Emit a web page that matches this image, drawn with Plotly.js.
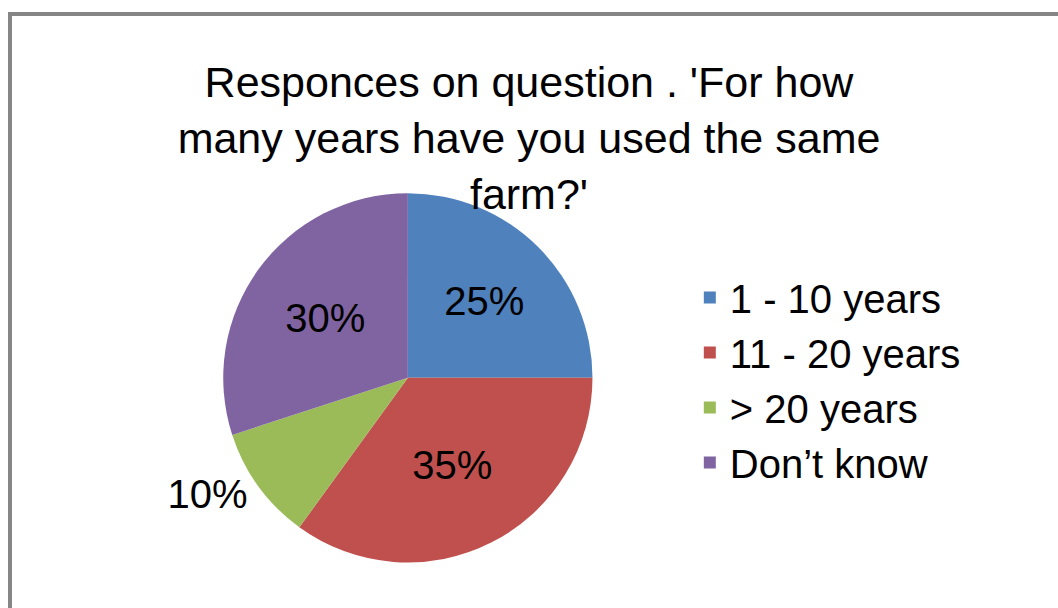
<!DOCTYPE html>
<html>
<head>
<meta charset="utf-8">
<script src="https://cdn.plot.ly/plotly-3.0.1.min.js"></script>
<style>html,body{margin:0;padding:0;background:#fff;}#chart{width:1058px;height:608px;}</style>
</head>
<body>
<div id="chart"></div>
<script>
const categories = ["1 - 10 years", "11 - 20 years", "> 20 years", "Don\u2019t know"];
const shares = [25, 35, 10, 30];
const colors = ["#4F81BD", "#C0504D", "#9BBB59", "#8064A2"];
const textPositions = ["inside", "inside", "outside", "inside"];
const chartTitle = "Responces on question . 'For how<br>many years have you used the same<br>farm?'";

const trace = {
  type: "pie",
  labels: categories,
  values: shares,
  sort: false,
  direction: "clockwise",
  rotation: 0,
  marker: {colors: colors, line: {width: 0}},
  textinfo: "percent",
  texttemplate: "%{percent:.0%}",
  textposition: textPositions,
  insidetextorientation: "horizontal",
  textfont: {family: "Liberation Sans, Arial, sans-serif", size: 40, color: "#000"},
  insidetextfont: {family: "Liberation Sans, Arial, sans-serif", size: 40, color: "#000"},
  outsidetextfont: {family: "Liberation Sans, Arial, sans-serif", size: 40, color: "#000"},
  domain: {x: [0.211, 0.560], y: [0.074, 0.683]},
  hoverinfo: "label+percent",
  showlegend: true
};

const layout = {
  width: 1058,
  height: 608,
  margin: {l: 0, r: 0, t: 0, b: 0},
  paper_bgcolor: "#fff",
  plot_bgcolor: "#fff",
  font: {family: "Liberation Sans, Arial, sans-serif", color: "#000"},
  title: {
    text: chartTitle,
    font: {family: "Liberation Sans, Arial, sans-serif", size: 43, color: "#000"},
    x: 0.5, xanchor: "center",
    y: 0.84, yanchor: "top",
    yref: "paper"
  },
  legend: {
    x: 0.652, xanchor: "left",
    y: 0.375, yanchor: "middle",
    font: {family: "Liberation Sans, Arial, sans-serif", size: 40, color: "#000"},
    bgcolor: "rgba(0,0,0,0)"
  },
  shapes: [{
    type: "rect", xref: "paper", yref: "paper",
    x0: 10/1058, x1: 1.05, y0: -0.05, y1: 1 - 14/608,
    line: {color: "#868686", width: 4}
  }]
};

Plotly.newPlot("chart", [trace], layout, {displayModeBar: false});
</script>
</body>
</html>
